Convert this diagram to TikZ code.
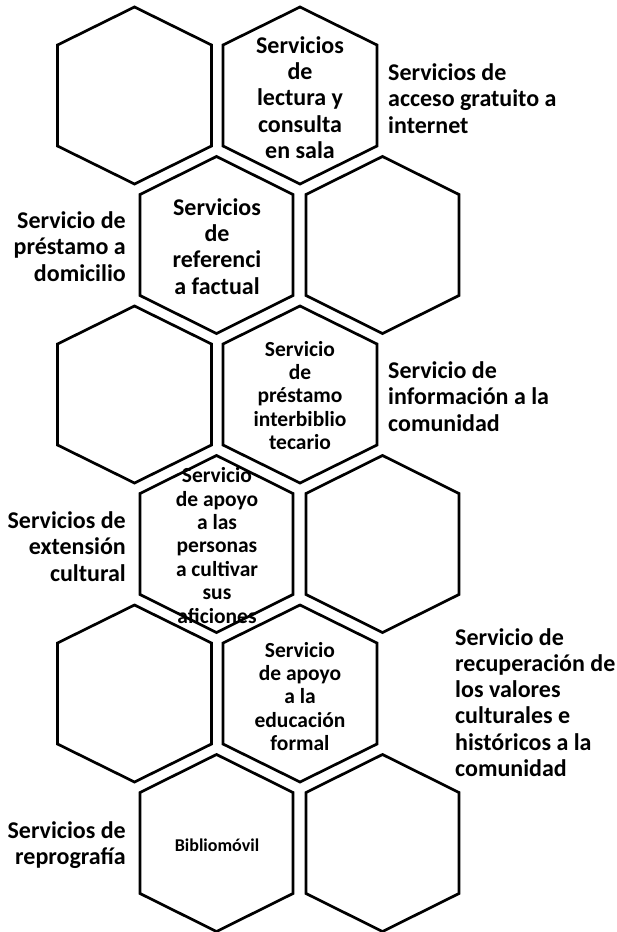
\documentclass[tikz,border=0pt]{standalone}
\usepackage{fontspec}
\setmainfont{Carlito}
\tikzset{
  hexline/.style={draw=black, line width=2.7pt, line join=miter},
  bigtxt/.style={font=\fontsize{24}{26.3}\selectfont\bfseries, inner sep=0pt},
  midtxt/.style={font=\fontsize{21.5}{23.4}\selectfont\bfseries, inner sep=0pt, align=center},
  smalltxt/.style={font=\fontsize{18}{20}\selectfont\bfseries, inner sep=0pt, align=center},
}
% \hexa{cx}{cy}{halfwidth}
\newcommand{\hexa}[3]{%
  \draw[hexline] (#1,#2-88.5) -- (#1+#3,#2-50.5) -- (#1+#3,#2+50.5) -- (#1,#2+88.5)
    -- (#1-#3,#2+50.5) -- (#1-#3,#2-50.5) -- cycle;}
\begin{document}
\begin{tikzpicture}[x=1pt,y=-1pt]
\useasboundingbox (0,0) rectangle (616,932);
% row 1
\hexa{134.5}{95.5}{77}
\hexa{300}{95.5}{77}
% row 2
\hexa{216.5}{245}{76.5}
\hexa{382.5}{245}{76.5}
% row 3
\hexa{134.5}{394.5}{77}
\hexa{300}{394.5}{77}
% row 4
\hexa{216.5}{544}{76.5}
\hexa{382.5}{544}{76.5}
% row 5
\hexa{134.5}{693.5}{77}
\hexa{300}{693.5}{77}
% row 6
\hexa{216.5}{843}{76.5}
\hexa{382.5}{843}{76.5}

% texts inside hexagons
\node[bigtxt, align=center] (h1) at (300,97.5) {Servicios\\de\\lectura y\\consulta\\en sala};
\node[bigtxt, align=center] (h2) at (217,246.5) {Servicios\\de\\referenci\\a factual};
\node[midtxt] (h3) at (300,395.5) {Servicio\\de\\préstamo\\interbiblio\\tecario};
\node[midtxt] (h4) at (217,545.5) {Servicio\\de apoyo\\a las\\personas\\a cultivar\\sus\\aficiones};
\node[midtxt] (h5) at (300,696.5) {Servicio\\de apoyo\\a la\\educación\\formal};
\node[smalltxt] (h6) at (217,845) {Bibliomóvil};

% outside labels
\node[bigtxt, align=left, anchor=west] (l1) at (388,98.5) {Servicios de\\acceso gratuito a\\internet};
\node[bigtxt, align=right, anchor=east] (l2) at (126,246.5) {Servicio de\\préstamo a\\domicilio};
\node[bigtxt, align=left, anchor=west] (l3) at (388,396.5) {Servicio de\\información a la\\comunidad};
\node[bigtxt, align=right, anchor=east] (l4) at (126,546.5) {Servicios de\\extensión\\cultural};
\node[bigtxt, align=left, anchor=west] (l5) at (455,702.5) {Servicio de\\recuperación de\\los valores\\culturales e\\históricos a la\\comunidad};
\node[bigtxt, align=right, anchor=east] (l6) at (126,845) {Servicios de\\reprografía};
\end{tikzpicture}
\end{document}
